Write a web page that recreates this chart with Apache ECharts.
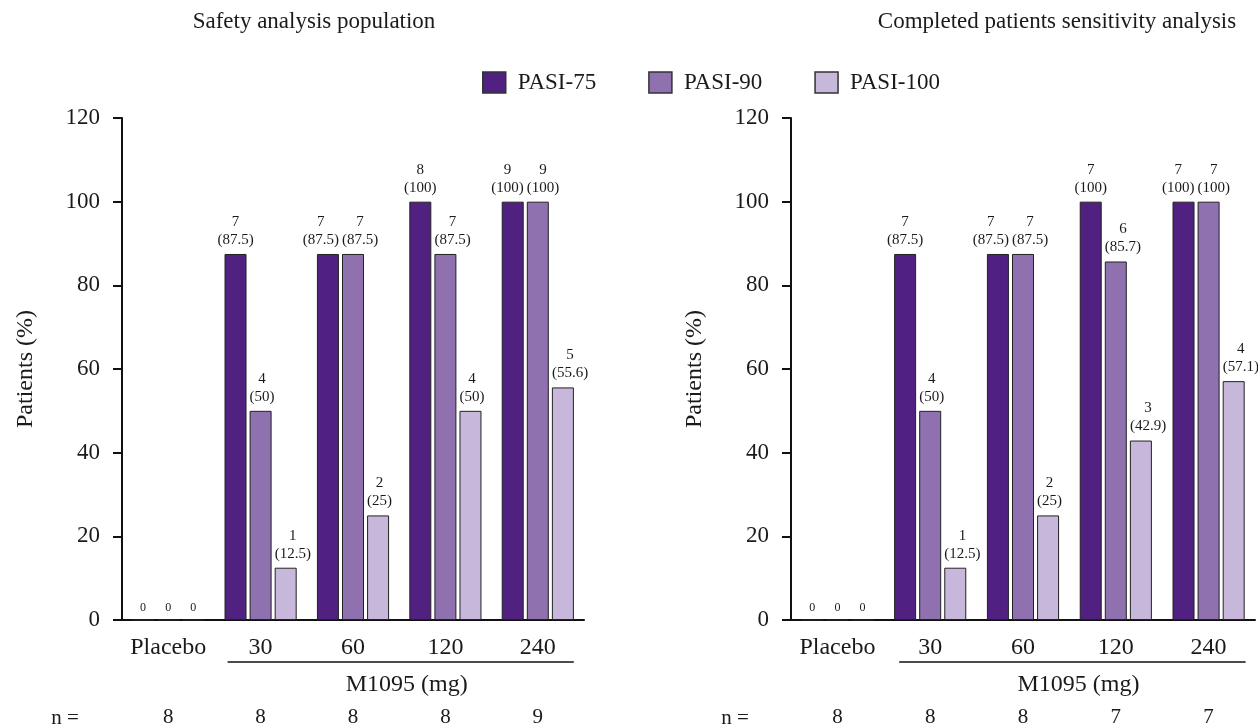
<!DOCTYPE html>
<html><head><meta charset="utf-8">
<script src="https://cdn.jsdelivr.net/npm/echarts@6/dist/echarts.min.js"></script>
<style>html,body{margin:0;padding:0;background:#fff}#c{width:1258px;height:728px}</style>
</head><body><div id="c"></div>
<script>
const categories = ['Placebo', '30', '60', '120', '240'];
const seriesNames = ['PASI-75', 'PASI-90', 'PASI-100'];
const seriesColors = ['#512181', '#9071b0', '#c6b7db'];
const panelTitles = ['Safety analysis population', 'Completed patients sensitivity analysis'];
const yTickValues = [0, 20, 40, 60, 80, 100, 120];

// Left panel: safety analysis population
const leftPct75 = [0, 87.5, 87.5, 100, 100];
const leftCnt75 = [0, 7, 7, 8, 9];
const leftPct90 = [0, 50, 87.5, 87.5, 100];
const leftCnt90 = [0, 4, 7, 7, 9];
const leftPct100 = [0, 12.5, 25, 50, 55.6];
const leftCnt100 = [0, 1, 2, 4, 5];
const leftGroupN = [8, 8, 8, 8, 9];

// Right panel: completed patients sensitivity analysis
const rightPct75 = [0, 87.5, 87.5, 100, 100];
const rightCnt75 = [0, 7, 7, 7, 7];
const rightPct90 = [0, 50, 87.5, 85.7, 100];
const rightCnt90 = [0, 4, 7, 6, 7];
const rightPct100 = [0, 12.5, 25, 42.9, 57.1];
const rightCnt100 = [0, 1, 2, 3, 4];
const rightGroupN = [8, 8, 8, 7, 7];

const FONT = '"Liberation Serif", "Times New Roman", serif';
const TXT = '#1a1a1a';
const BAR_W = 22;
const LABEL_FS = 15;

const measureCtx = document.createElement('canvas').getContext('2d');
measureCtx.font = LABEL_FS + 'px ' + FONT;
function textW(s) { return measureCtx.measureText(s).width; }

function mkSeries(idx, pct, cnt, axis, nextPct) {
  return {
    name: seriesNames[idx], type: 'bar', xAxisIndex: axis, yAxisIndex: axis,
    barWidth: BAR_W, barGap: '14%',
    itemStyle: { color: seriesColors[idx], borderColor: '#222', borderWidth: 1 },
    data: pct.map((v, i) => {
      const d = { value: v, cnt: cnt[i] };
      if (v === 0) {
        d.label = { fontSize: 12, distance: 3 };
      } else {
        const w = Math.max(textW('(' + v + ')'), textW(String(cnt[i])));
        const extra = Math.max(0, (w - BAR_W) / 2);
        let dx = 0;
        if (idx === 0) {
          if (nextPct && nextPct[i] >= v - 5) dx = -extra;
        } else {
          dx = extra;
        }
        d.label = { offset: [dx, 0] };
      }
      return d;
    }),
    label: {
      show: true, position: 'top', distance: 5, color: TXT, fontFamily: FONT,
      fontSize: LABEL_FS, lineHeight: 18,
      formatter: p => p.value === 0 ? String(p.data.cnt) : p.data.cnt + '\n(' + p.value + ')'
    },
    emphasis: { disabled: true }
  };
}

function yAx(gi) {
  return {
    type: 'value', gridIndex: gi, min: 0, max: 120, interval: 20,
    name: 'Patients (%)', nameLocation: 'middle', nameGap: 84,
    nameTextStyle: { fontFamily: FONT, fontSize: 24, color: TXT },
    axisLine: { show: true, lineStyle: { color: '#111', width: 2 } },
    axisTick: { show: true, length: 9, lineStyle: { color: '#111', width: 2 } },
    axisLabel: { fontFamily: FONT, fontSize: 23, color: TXT, margin: 22,
      formatter: v => yTickValues.includes(v) ? String(v) : '' },
    splitLine: { show: false }
  };
}
function xAx(gi) {
  return {
    type: 'category', gridIndex: gi, data: categories,
    axisLine: { show: true, lineStyle: { color: '#111', width: 2 } },
    axisTick: { show: false },
    axisLabel: { fontFamily: FONT, fontSize: 24, color: TXT, margin: 16, interval: 0, hideOverlap: false }
  };
}
function nAx(gi, nvals) {
  return {
    type: 'category', gridIndex: gi, data: nvals.map(String), position: 'bottom', offset: 80,
    axisLine: { show: false }, axisTick: { show: false },
    axisLabel: { fontFamily: FONT, fontSize: 21, color: TXT, margin: 7, interval: 0 }
  };
}

const chart = echarts.init(document.getElementById('c'), null, { renderer: 'canvas' });
chart.setOption({
  animation: false,
  legend: {
    data: seriesNames, left: 477, top: 66, itemWidth: 23, itemHeight: 21, itemGap: 52,
    icon: 'rect',
    textStyle: { fontFamily: FONT, fontSize: 23, color: TXT, padding: [0, 0, 0, 7] },
    itemStyle: { borderColor: '#333', borderWidth: 1.5 }
  },
  grid: [
    { left: 122, right: 674, top: 118, bottom: 108 },
    { left: 791, right: 3, top: 118, bottom: 108 }
  ],
  xAxis: [xAx(0), xAx(1), nAx(0, leftGroupN), nAx(1, rightGroupN)],
  yAxis: [yAx(0), yAx(1)],
  series: [
    mkSeries(0, leftPct75, leftCnt75, 0, leftPct90),
    mkSeries(1, leftPct90, leftCnt90, 0),
    mkSeries(2, leftPct100, leftCnt100, 0),
    mkSeries(0, rightPct75, rightCnt75, 1, rightPct90),
    mkSeries(1, rightPct90, rightCnt90, 1),
    mkSeries(2, rightPct100, rightCnt100, 1)
  ]
});

function px(axis, cat) { return chart.convertToPixel({ xAxisIndex: axis }, cat); }
const graphics = [];
const bracketCfg = [
  { axis: 0, left: -33, right: 36, nx: 65, title: 314 },
  { axis: 1, left: -31, right: 37, nx: 735, title: 1057 }
];
bracketCfg.forEach((b, k) => {
  const x1 = px(b.axis, '30') + b.left;
  const x2 = px(b.axis, '240') + b.right;
  graphics.push({ type: 'line', shape: { x1: x1, y1: 662, x2: x2, y2: 662 }, style: { stroke: '#111', lineWidth: 1.5 }, silent: true });
  graphics.push({ type: 'text', x: (x1 + x2) / 2 + 6, y: 685, style: { text: 'M1095 (mg)', font: '24px ' + FONT, fill: TXT, align: 'center', verticalAlign: 'middle' } });
  graphics.push({ type: 'text', x: b.nx, y: 718, style: { text: 'n =', font: '21px ' + FONT, fill: TXT, align: 'center', verticalAlign: 'middle' } });
  graphics.push({ type: 'text', x: b.title, y: 22, style: { text: panelTitles[k], font: '23px ' + FONT, fill: TXT, align: 'center', verticalAlign: 'middle' } });
});
chart.setOption({ graphic: graphics });
</script>
</body></html>
